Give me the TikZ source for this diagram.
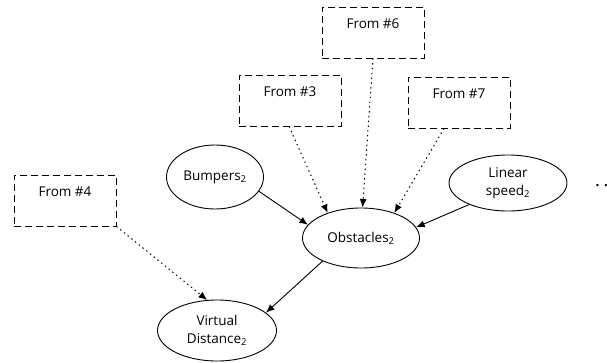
\documentclass[tikz,border=0pt]{standalone}
\usepackage{fontspec}
\setmainfont{Open Sans}
\usetikzlibrary{shapes.geometric,arrows.meta}
\begin{document}
\begin{tikzpicture}[x=1pt, y=-1pt, font=\fontsize{13.5}{18}\selectfont,
    var/.style={ellipse, draw, line width=0.9pt, inner sep=0pt, align=center},
    src/.style={rectangle, draw, line width=0.9pt, dash pattern=on 7pt off 4pt,
      minimum width=102pt, inner xsep=0pt, inner ysep=8pt, text height=13pt,
      text depth=22pt}]
    \useasboundingbox (0,0) rectangle (607,362);
    \begin{scope}[every node/.style={var}]
      \node [minimum width=97pt, minimum height=64pt] (bump) at (215,177)
      {Bumpers\textsubscript{2}}; \node [minimum width=118pt, minimum
      height=56pt] (lin) at (508,183) {Linear\\speed\textsubscript{2}};
      \node [minimum width=117pt, minimum height=60pt] (obs) at (361,238)
      {Obstacles\textsubscript{2}}; \node [minimum width=119pt, minimum
      height=61pt] (vd) at (217,330.5) {Virtual\\Distance\textsubscript{2}};
    \end{scope}
    \begin{scope}[every node/.style={src}]
      \node (f6) at (373,32.5) {From \#6}; \node (f3) at (290,100.5) {From
      \#3}; \node (f7) at (459,102.5) {From \#7}; \node (f4) at (65,200.5)
      {From \#4};
    \end{scope}
    \node [anchor=base west, font=\fontsize{13.5}{18}\selectfont\bfseries] (more)
    at (592,186) {. .};
    \begin{scope}[->, >={Latex[length=8.5pt,width=7pt]}, line width=0.9pt]
      \draw (bump.342) to (obs.166); \draw (lin.209) to (obs.11); \draw
      (obs.211) to (vd.20);
      \begin{scope}[line width=1pt, dash pattern=on 1.4pt off 3.4pt]
        \draw (f3.268) to (obs.143); \draw (f6.south) to (obs.87); \draw
        (f7.240) to (obs.37); \draw (f4.south east) to (vd.108);
      \end{scope}
    \end{scope}
  \end{tikzpicture}
\end{document}
